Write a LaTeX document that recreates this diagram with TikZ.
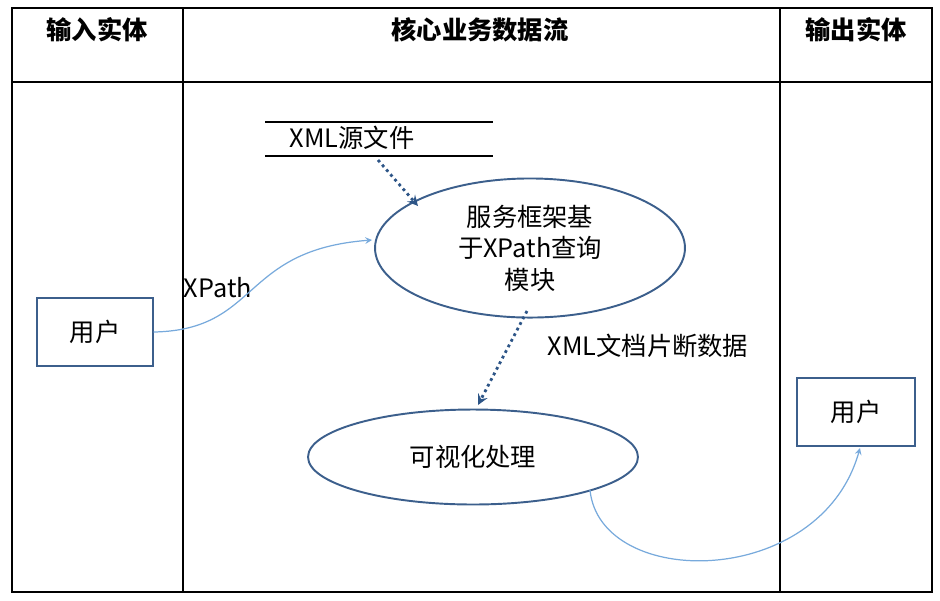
\documentclass[tikz,border=0pt]{standalone}
\usepackage{fontspec}
\setmainfont{Noto Sans CJK SC}
\usepackage{tikz}
\usetikzlibrary{shapes.geometric,positioning}
\definecolor{edgeblue}{RGB}{60,95,140}
\definecolor{arrowblue}{RGB}{45,85,135}
\definecolor{flowblue}{RGB}{120,170,220}
\tikzset{
  flow/.style={->,>=stealth,color=flowblue,line width=0.7pt},
  dotflow/.style={->,>=stealth,color=arrowblue,line width=1.6pt,dotted},
  proc/.style={ellipse,draw=edgeblue,line width=1.1pt,align=center,font=\Large},
  entity/.style={draw=edgeblue,line width=0.8pt,font=\Large},
  head/.style={font=\Large\bfseries}
}
\begin{document}
\begin{tikzpicture}[x=0.02cm,y=-0.02cm]
  \useasboundingbox (0,0) rectangle (940,600);
  % table
  \draw[line width=0.8pt] (12,8) rectangle (932,592);
  \draw[line width=0.8pt] (12,82) -- (932,82);
  \draw[line width=0.8pt] (183,8) -- (183,592);
  \draw[line width=0.8pt] (780,8) -- (780,592);
  \node[head] (h_in) at (97,30) {输入实体};
  \node[head] (h_core) at (480,30) {核心业务数据流};
  \node[head] (h_out) at (856,30) {输出实体};
  % data store
  \draw[line width=0.8pt] (265,122) -- (493,122);
  \draw[line width=0.8pt] (265,156) -- (493,156);
  \node[font=\Large] (src) at (352,138) {XML源文件};
  % processes
  \node[proc,minimum width=6.2cm,minimum height=2.4cm] (query) at (530,248)
     {服务框架基\\于XPath查询\\模块};
  \node[proc,minimum width=6.6cm,minimum height=1.9cm] (vis) at (473,457) {可视化处理};
  % entities
  \node[entity,minimum width=2.32cm,minimum height=1.36cm] (user_in) at (95,332) {用户};
  \node[entity,minimum width=2.36cm,minimum height=1.36cm] (user_out) at (856,412) {用户};
  % flows
  \draw[dotflow] (378,160) -- (418,206);
  \draw[dotflow] (527,311) -- (478,405);
  \node[font=\Large] (frag) at (648,346) {XML文档片断数据};
  \node[font=\Large] (xpath) at (218,288) {XPath};
  \draw[flow] (user_in.east) .. controls (260,330) and (240,250) .. (372,240);
  \draw[flow] (590,490) .. controls (600,590) and (820,590) .. (860,448);
\end{tikzpicture}
\end{document}
